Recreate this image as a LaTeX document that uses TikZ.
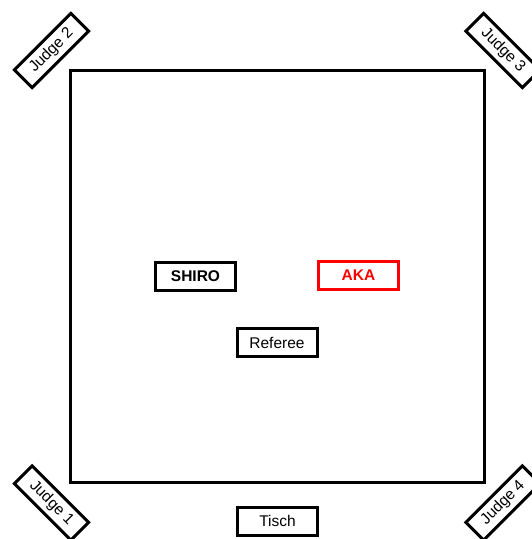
\documentclass[tikz,border=0pt]{standalone}
\usepackage{fontspec}
\setmainfont{Liberation Sans}
\begin{document}
\begin{tikzpicture}[x=1pt,y=-1pt,
  box/.style={draw,line width=3pt,minimum width=80pt,minimum height=28pt,inner sep=0pt,font=\fontsize{15.5}{18}\selectfont},
  judge/.style={box,minimum height=25pt}]
\useasboundingbox (0,0) rectangle (531,539);
\draw[line width=3pt] (70,70) rectangle (484,482);
\node[box,font=\fontsize{15.5}{18}\selectfont\bfseries] (shiro) at (195.5,276.5) {SHIRO};
\node[box,draw=red,text=red,font=\fontsize{15.5}{18}\selectfont\bfseries] (aka) at (358.5,275.5) {AKA};
\node[box] (referee) at (277,342.5) {Referee};
\node[box] (tisch) at (277.5,521) {Tisch};
\node[judge,rotate=45] (j2) at (51.5,50.5) {Judge 2};
\node[judge,rotate=-45] (j3) at (503,50.5) {Judge 3};
\node[judge,rotate=-45] (j1) at (51.5,503) {Judge 1};
\node[judge,rotate=45] (j4) at (503,503) {Judge 4};
\end{tikzpicture}
\end{document}
